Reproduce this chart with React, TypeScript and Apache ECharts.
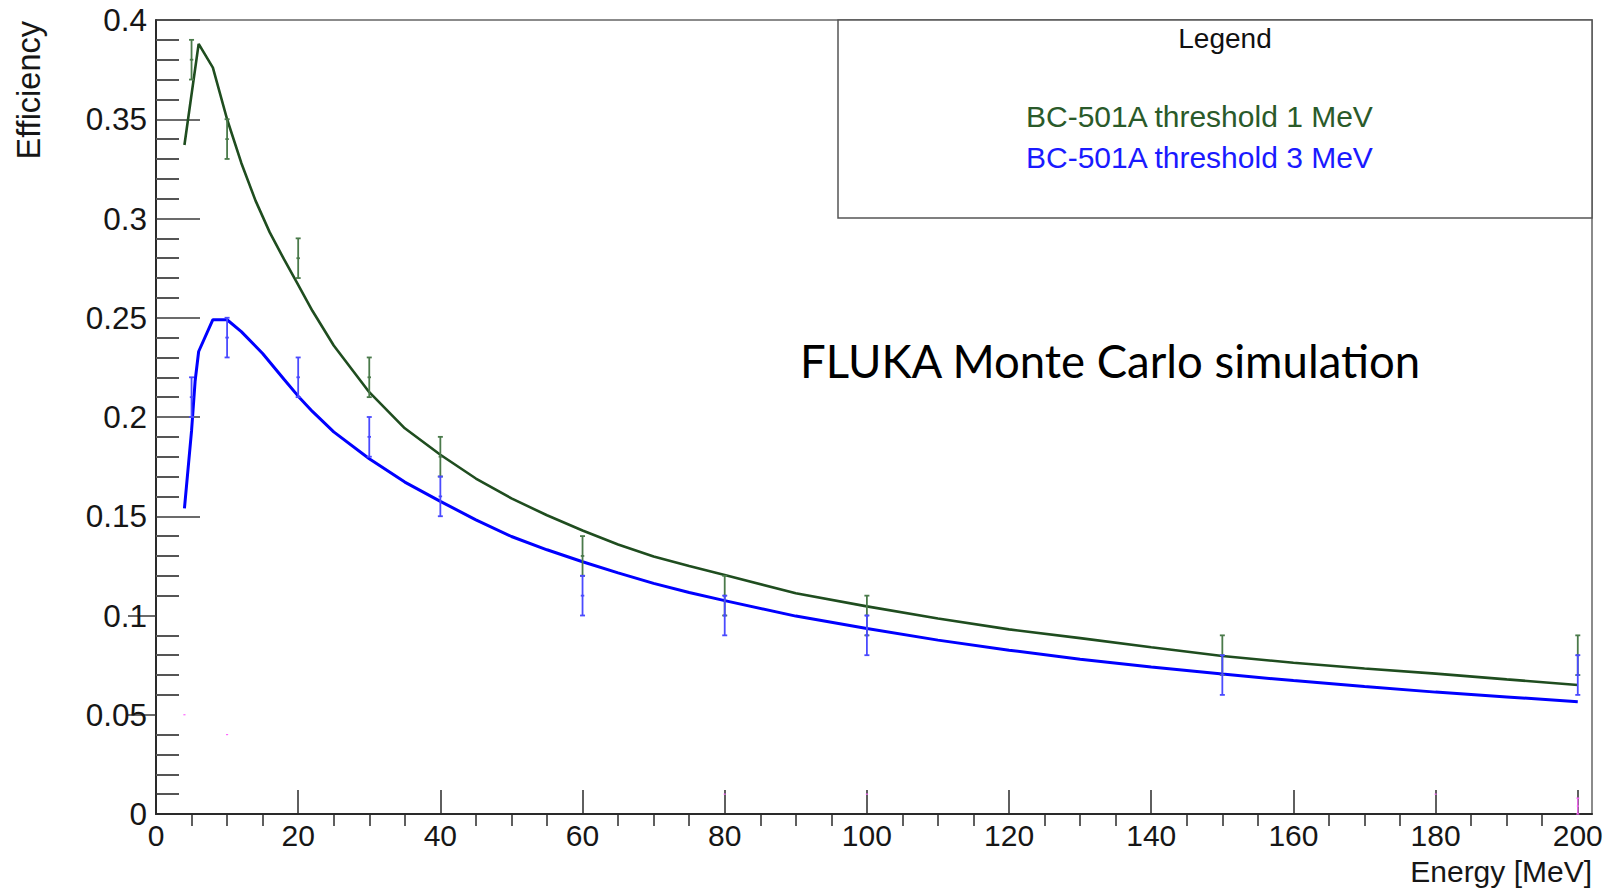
import React, { useEffect, useRef } from 'react';
import * as echarts from 'echarts';

// ---- data ----
const energyGreen = [4, 6, 8, 10, 12, 14, 16, 18, 20, 22, 25, 30, 35, 40, 45, 50, 55, 60, 65, 70, 75, 80, 90, 100, 110, 120, 130, 140, 150, 160, 170, 180, 190, 200];
const effGreen = [0.337, 0.388, 0.376, 0.350, 0.328, 0.309, 0.293, 0.2795, 0.2665, 0.2535, 0.236, 0.2125, 0.1943, 0.181, 0.169, 0.159, 0.1505, 0.1428, 0.1358, 0.1297, 0.1249, 0.1204, 0.1112, 0.1046, 0.0985, 0.093, 0.0886, 0.084, 0.0796, 0.0762, 0.0733, 0.0707, 0.0678, 0.065];

const energyBlue = [4, 5, 5.5, 6, 8, 10, 12, 15, 18, 20, 22, 25, 30, 35, 40, 45, 50, 55, 60, 65, 70, 75, 80, 90, 100, 110, 120, 130, 140, 150, 160, 170, 180, 190, 200];
const effBlue = [0.154, 0.193, 0.218, 0.233, 0.249, 0.249, 0.243, 0.232, 0.219, 0.2105, 0.2028, 0.1925, 0.179, 0.1672, 0.1575, 0.1482, 0.1398, 0.1331, 0.1271, 0.1215, 0.1162, 0.1116, 0.1075, 0.0997, 0.0935, 0.0876, 0.0825, 0.078, 0.074, 0.0705, 0.0672, 0.0642, 0.0614, 0.059, 0.0566];

const errEnergy = [5, 10, 20, 30, 40, 60, 80, 100, 150, 200];
const errGreenValue = [0.38, 0.34, 0.28, 0.22, 0.18, 0.13, 0.11, 0.10, 0.08, 0.08];
const errGreenSigma = [0.01, 0.01, 0.01, 0.01, 0.01, 0.01, 0.01, 0.01, 0.01, 0.01];
const errBlueValue = [0.21, 0.24, 0.22, 0.19, 0.16, 0.11, 0.10, 0.09, 0.07, 0.07];
const errBlueSigma = [0.01, 0.01, 0.01, 0.01, 0.01, 0.01, 0.01, 0.01, 0.01, 0.01];

const stubEnergy = [4, 10, 80, 100, 180, 200];
const stubValue = [0.05, 0.04, 0.01, 0.01, 0.01, 0.004];
const stubSigma = [0, 0, 0, 0, 0, 0.004];

const xMajorTicks = [0, 20, 40, 60, 80, 100, 120, 140, 160, 180, 200];
const yLongTicks = [0.15, 0.2, 0.25, 0.3, 0.35, 0.4];
const yShortTicks = [0.05, 0.1];

const seriesNames = ['BC-501A threshold 1 MeV', 'BC-501A threshold 3 MeV'];
const legendTitle = 'Legend';
const xTitle = 'Energy [MeV]';
const yTitle = 'Efficiency';
const annotation = 'FLUKA Monte Carlo simulation';

const GREEN = '#1f4d1f';
const GREEN_TEXT = '#2a5a2a';
const GREEN_BAR = '#4a7a4a';
const BLUE = '#0000ff';
const BLUE_BAR = '#4a4aff';
const FONT = '"Liberation Sans", Arial, Helvetica, sans-serif';

const xMinorTicks: number[] = [];
for (let v = 5; v < 200; v += 5) if (v % 20 !== 0) xMinorTicks.push(v);

function errorBarSeries(name: string, xs: number[], vs: number[], ss: number[], color: string, width: number, cap: number) {
  return {
    type: 'custom',
    name,
    xAxisIndex: 0,
    yAxisIndex: 0,
    z: 5,
    silent: true,
    data: xs.map((x, i) => [x, vs[i], ss[i]]),
    renderItem: (params: any, api: any) => {
      const x = api.value(0);
      const c = api.value(1);
      const s = api.value(2);
      const top = api.coord([x, c + s]);
      const bot = api.coord([x, c - s]);
      const mid = api.coord([x, c]);
      const style = { stroke: color, lineWidth: width, fill: 'none' };
      const children: any[] = [];
      if (s > 0) {
        children.push({ type: 'line', shape: { x1: top[0], y1: top[1], x2: bot[0], y2: bot[1] }, style });
        children.push({ type: 'line', shape: { x1: top[0] - cap, y1: top[1], x2: top[0] + cap, y2: top[1] }, style });
        children.push({ type: 'line', shape: { x1: bot[0] - cap, y1: bot[1], x2: bot[0] + cap, y2: bot[1] }, style });
      }
      children.push({ type: 'line', shape: { x1: mid[0] - cap * 0.7, y1: mid[1], x2: mid[0] + cap * 0.7, y2: mid[1] }, style });
      return { type: 'group', children };
    },
  };
}

export default function App() {
  const ref = useRef<HTMLDivElement>(null);
  useEffect(() => {
    if (!ref.current) return;
    const chart = echarts.init(ref.current, undefined, { renderer: 'svg' });
    const axisColor = '#2a2a2a';
    const labelStyle = { fontFamily: FONT, fontSize: 31, color: '#161616' };
    const option: any = {
      animation: false,
      backgroundColor: '#ffffff',
      grid: {
        left: 156, right: 19, top: 20, bottom: 74,
        show: true, borderColor: '#666666', borderWidth: 1.5, backgroundColor: 'transparent',
      },
      xAxis: [
        {
          type: 'value', min: 0, max: 202, interval: 20,
          axisLine: { show: true, onZero: false, lineStyle: { color: axisColor, width: 2 } },
          axisTick: { show: true, inside: true, length: 24, customValues: xMajorTicks, lineStyle: { color: axisColor, width: 1.5 } },
          axisLabel: { ...labelStyle, fontSize: 30, lineHeight: 30, margin: 6, customValues: xMajorTicks, formatter: (v: number) => String(v) },
          splitLine: { show: false },
        },
        {
          type: 'value', min: 0, max: 202, interval: 20,
          axisLine: { show: false },
          axisTick: { show: true, inside: true, length: 12, customValues: xMinorTicks, lineStyle: { color: axisColor, width: 1.5 } },
          axisLabel: { show: false },
          splitLine: { show: false },
        },
      ],
      yAxis: [
        {
          type: 'value', min: 0, max: 0.4, interval: 0.05,
          axisLine: { show: true, onZero: false, lineStyle: { color: axisColor, width: 2 } },
          axisTick: { show: true, inside: true, length: 44, customValues: yLongTicks, lineStyle: { color: '#3a3a3a', width: 1.5 } },
          minorTick: { show: true, splitNumber: 5, length: 23, lineStyle: { color: '#555555', width: 2 } },
          axisLabel: { ...labelStyle, fontSize: 31.5, margin: 9, formatter: (v: number) => String(+v.toFixed(2)) },
          splitLine: { show: false },
        },
        {
          type: 'value', min: 0, max: 0.4, interval: 0.05,
          axisLine: { show: false },
          axisTick: { show: true, inside: true, length: 28, customValues: yShortTicks, lineStyle: { color: '#3a3a3a', width: 1.5 } },
          axisLabel: { show: false },
          splitLine: { show: false },
        },
      ],
      series: [
        {
          type: 'line', name: seriesNames[0], xAxisIndex: 0, yAxisIndex: 0, z: 3,
          data: energyGreen.map((e, i) => [e, effGreen[i]]),
          symbol: 'none', showSymbol: false, smooth: false,
          lineStyle: { color: GREEN, width: 2.6 },
        },
        {
          type: 'line', name: seriesNames[1], xAxisIndex: 0, yAxisIndex: 0, z: 3,
          data: energyBlue.map((e, i) => [e, effBlue[i]]),
          symbol: 'none', showSymbol: false, smooth: false,
          lineStyle: { color: BLUE, width: 3 },
        },
        errorBarSeries(seriesNames[0] + ' errors', errEnergy, errGreenValue, errGreenSigma, GREEN_BAR, 1.8, 2.5),
        errorBarSeries(seriesNames[1] + ' errors', errEnergy, errBlueValue, errBlueSigma, BLUE_BAR, 1.8, 2.5),
        errorBarSeries('stub', stubEnergy, stubValue, stubSigma, '#ff66ff', 1.2, 1.5),
      ],
      graphic: [
        {
          type: 'rect', z: 10, silent: true,
          shape: { x: 838, y: 20, width: 754, height: 198 },
          style: { fill: '#ffffff', stroke: '#555555', lineWidth: 1.5 },
        },
        {
          type: 'text', z: 11, x: 1225, y: 38,
          style: { text: legendTitle, font: `28px ${FONT}`, fill: '#111111', align: 'center', verticalAlign: 'middle' },
        },
        {
          type: 'text', z: 11, x: 1026, y: 116,
          style: { text: seriesNames[0], font: `30px ${FONT}`, fill: GREEN_TEXT, align: 'left', verticalAlign: 'middle' },
        },
        {
          type: 'text', z: 11, x: 1026, y: 157,
          style: { text: seriesNames[1], font: `30px ${FONT}`, fill: '#1a1aff', align: 'left', verticalAlign: 'middle' },
        },
        {
          type: 'text', z: 11, x: 800, y: 360,
          style: { text: annotation, font: `45.5px Lato, "Open Sans", sans-serif`, fill: '#000000', align: 'left', verticalAlign: 'middle' },
        },
        {
          type: 'text', z: 11, x: 29, y: 21, rotation: Math.PI / 2,
          style: { text: yTitle, font: `32.5px ${FONT}`, fill: '#161616', align: 'right', verticalAlign: 'middle' },
        },
        {
          type: 'text', z: 11, x: 1592, y: 871,
          style: { text: xTitle, font: `30px ${FONT}`, fill: '#161616', align: 'right', verticalAlign: 'middle', lineHeight: 30 },
        },
      ],
    };
    chart.setOption(option);
    return () => chart.dispose();
  }, []);
  return <div ref={ref} style={{ position: 'fixed', left: 0, top: 0, width: 1611, height: 888 }} />;
}
